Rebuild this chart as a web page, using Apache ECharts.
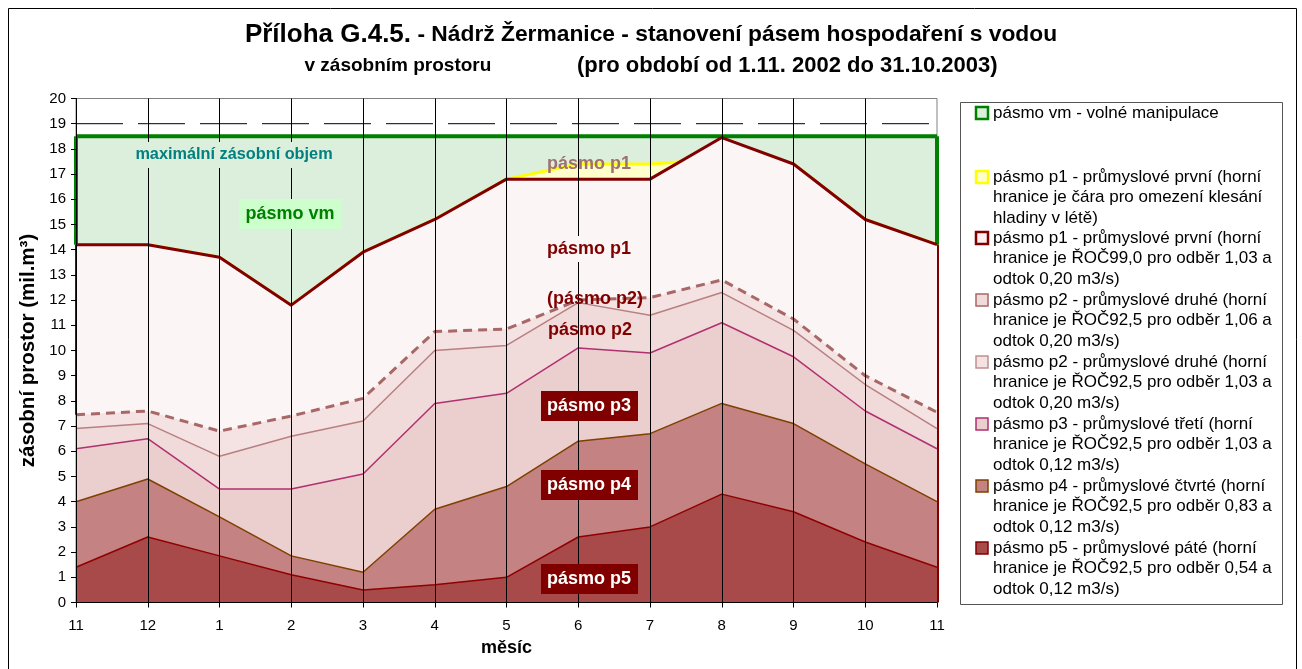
<!DOCTYPE html>
<html><head><meta charset="utf-8">
<script src="https://cdn.jsdelivr.net/npm/echarts@6/dist/echarts.min.js"></script>
<style>html,body{margin:0;padding:0;background:#fff}#c{width:1302px;height:669px}</style>
</head><body><div id="c"></div>
<script>
// ---- data ----
const months = ['11','12','1','2','3','4','5','6','7','8','9','10','11'];
const yTicks = [0,20,1];
const line19 = [19,19,19,19,19,19,19,19,19,19,19,19,19];
const vm     = [18.5,18.5,18.5,18.5,18.5,18.5,18.5,18.5,18.5,18.5,18.5,18.5,18.5];
const p1Leto = [14.2,14.2,13.7,11.8,13.9,15.2,16.8,17.4,17.4,17.6,17.4,15.2,14.2];
const p1     = [14.2,14.2,13.7,11.8,13.9,15.2,16.8,16.8,16.8,18.45,17.4,15.2,14.2];
const p2a    = [7.45,7.6,6.8,7.4,8.1,10.75,10.85,12.0,12.1,12.8,11.25,9.0,7.55];
const p2b    = [6.9,7.1,5.8,6.6,7.2,10.0,10.2,11.9,11.4,12.3,10.8,8.65,6.9];
const p3     = [6.1,6.5,4.5,4.5,5.1,7.9,8.3,10.1,9.9,11.1,9.75,7.6,6.1];
const p4     = [4.0,4.9,3.4,1.85,1.2,3.7,4.6,6.4,6.7,7.9,7.1,5.5,4.0];
const p5     = [1.4,2.6,1.85,1.1,0.5,0.7,1.0,2.6,3.0,4.3,3.6,2.4,1.4];
const legendTexts = [
  'pásmo vm - volné manipulace',
  'pásmo p1 - průmyslové první (horní\nhranice je čára pro omezení klesání\nhladiny v létě)',
  'pásmo p1 - průmyslové první (horní\nhranice je ŘOČ99,0 pro odběr 1,03 a\nodtok 0,20 m3/s)',
  'pásmo p2 - průmyslové druhé (horní\nhranice je ŘOČ92,5 pro odběr 1,06 a\nodtok 0,20 m3/s)',
  'pásmo p2 - průmyslové druhé (horní\nhranice je ŘOČ92,5 pro odběr 1,03 a\nodtok 0,20 m3/s)',
  'pásmo p3 - průmyslové třetí (horní\nhranice je ŘOČ92,5 pro odběr 1,03 a\nodtok 0,12 m3/s)',
  'pásmo p4 - průmyslové čtvrté (horní\nhranice je ŘOČ92,5 pro odběr 0,83 a\nodtok 0,12 m3/s)',
  'pásmo p5 - průmyslové páté (horní\nhranice je ŘOČ92,5 pro odběr 0,54 a\nodtok 0,12 m3/s)'
];

const FONT = "'Liberation Sans', Arial, sans-serif";
const last = months.length - 1;

let zc = 2;
function areaSeries(name, data, lc, lw, fill, dash, extra) {
  zc += 1;
  return Object.assign({
    type: 'line', name: name, data: data, symbol: 'none', showSymbol: false,
    lineStyle: { color: lc, width: lw, type: dash || 'solid' },
    areaStyle: { color: fill, opacity: 1, origin: 'start' },
    emphasis: { disabled: true }, silent: true, z: zc
  }, extra || {});
}
function edge(x, y0, y1, color, width) {
  return [{ coord: [x, y0], lineStyle: { color: color, width: width, type: 'solid' } }, { coord: [x, y1] }];
}

const series = [
  { type: 'line', name: 'line19', data: line19, symbol: 'none', silent: true,
    lineStyle: { color: '#000', width: 1, type: [47, 15] }, z: 2 },
  areaSeries('vm', vm, '#008000', 4, '#dcefdc'),
  areaSeries('p1leto', p1Leto, '#ffff00', 3, '#ffffcc'),
  areaSeries('p1', p1, '#800000', 3, '#fcf5f5'),
  areaSeries('p2a', p2a, '#a86868', 3, '#f5e2e2', [9, 6]),
  areaSeries('p2b', p2b, '#b88080', 1.5, '#f0dada'),
  areaSeries('p3', p3, '#b03070', 1.5, '#ebcfcf'),
  areaSeries('p4', p4, '#804000', 1.5, '#c48282'),
  areaSeries('p5', p5, '#900000', 1.5, '#a84a4a', null, {
    markLine: { symbol: 'none', silent: true, label: { show: false },
      data: [
        edge(0, p1[0], vm[0], '#008000', 4), edge(last, p1[last], vm[last], '#008000', 4),
        edge(0, p2a[0], p1[0], '#800000', 3), edge(last, 0, p1[last], '#800000', 3)
      ] }
  })
];

// ---- graphic annotations ----
const g = [];
g.push({ type: 'rect', z: 0, shape: { x: 8.5, y: 8.5, width: 1288, height: 680 }, style: { fill: 'none', stroke: '#000', lineWidth: 1 } });
function label(text, x, y, color, size, bg) {
  if (bg) g.push({ type: 'rect', z: 100, shape: { x: bg[0], y: bg[1], width: bg[2], height: bg[3] }, style: { fill: bg[4] } });
  g.push({ type: 'text', z: 101, style: { text: text, x: x, y: y, fill: color, font: 'bold ' + size + 'px ' + FONT, textAlign: 'center', textVerticalAlign: 'middle' } });
}
label('maximální zásobní objem', 234, 155, '#008080', 16.3, [128, 142, 212, 26, '#dcefdc']);
label('pásmo vm', 290, 214, '#008000', 18, [239, 199, 102, 30, '#ccffcc']);
label('pásmo p1', 589, 164, '#a07070', 18, null);
label('pásmo p1', 589, 249, '#800000', 18, [543, 236, 92, 26, '#fcf5f5']);
label('(pásmo p2)', 595, 299, '#800000', 18, null);
label('pásmo p2', 590, 330, '#800000', 18, null);
label('pásmo p3', 589, 406, '#ffffff', 18, [541, 391, 97, 30, '#800000']);
label('pásmo p4', 589, 485, '#ffffff', 18, [541, 470, 97, 30, '#800000']);
label('pásmo p5', 589, 579, '#ffffff', 18, [541, 564, 97, 30, '#800000']);

// legend
g.push({ type: 'rect', z: 100, shape: { x: 960.5, y: 102.5, width: 322, height: 502 }, style: { fill: '#fff', stroke: '#555', lineWidth: 1 } });
const legSym = [
  ['#008000', '#dcefdc', 2.5], ['#ffff00', '#ffffcc', 2.5], ['#800000', '#fcf0f0', 2.5], ['#a86868', '#f0dada', 1.5],
  ['#c09090', '#f5e2e2', 1.5], ['#b03070', '#ebcfcf', 1.5], ['#804000', '#c48282', 1.5], ['#800000', '#a84a4a', 1.5]
];
const legY = [113, 177, 238, 300, 362, 424, 486, 548];
legendTexts.forEach(function (t, i) {
  g.push({ type: 'rect', z: 101, shape: { x: 976, y: legY[i] - 6, width: 12, height: 12 },
    style: { fill: legSym[i][1], stroke: legSym[i][0], lineWidth: legSym[i][2] } });
  g.push({ type: 'text', z: 101, style: { text: t, x: 993, y: legY[i] - 10.3, fill: '#000', font: '17px ' + FONT, lineHeight: 20.7, textVerticalAlign: 'top' } });
});

const option = {
  animation: false,
  backgroundColor: '#fff',
  textStyle: { fontFamily: FONT },
  title: {
    left: 'center', top: 14,
    text: '{a|Příloha G.4.5.}{b| - Nádrž Žermanice - stanovení pásem hospodaření s vodou}\n{c|v zásobním prostoru}{d|              (pro období od 1.11. 2002 do 31.10.2003)}',
    textStyle: {
      rich: {
        a: { fontSize: 26, fontWeight: 'bold', color: '#000', fontFamily: FONT, lineHeight: 31 },
        b: { fontSize: 22.8, fontWeight: 'bold', color: '#000', fontFamily: FONT, lineHeight: 31 },
        c: { fontSize: 19, fontWeight: 'bold', color: '#000', fontFamily: FONT, lineHeight: 31 },
        d: { fontSize: 22, fontWeight: 'bold', color: '#000', fontFamily: FONT, lineHeight: 31 }
      }
    }
  },
  grid: { left: 76, right: 365, top: 98.5, bottom: 66.5, show: true, borderColor: '#808080', borderWidth: 1, backgroundColor: 'transparent' },
  xAxis: {
    type: 'category', data: months, boundaryGap: false, z: 30,
    name: 'měsíc', nameLocation: 'middle', nameGap: 37,
    nameTextStyle: { fontSize: 18, fontWeight: 'bold', color: '#000', fontFamily: FONT },
    axisLine: { lineStyle: { color: '#000', width: 1 } },
    axisTick: { show: true, length: 5, lineStyle: { color: '#000' } },
    axisLabel: { color: '#000', fontSize: 15, margin: 16, fontFamily: FONT },
    splitLine: { show: true, interval: function (i) { return i !== 0 && i !== last; }, lineStyle: { color: '#000', width: 1 } }
  },
  yAxis: {
    type: 'value', min: yTicks[0], max: yTicks[1], interval: yTicks[2], z: 30,
    name: 'zásobní prostor (mil.m³)', nameLocation: 'middle', nameGap: 35, nameRotate: 90,
    nameTextStyle: { fontSize: 20.5, fontWeight: 'bold', color: '#000', fontFamily: FONT },
    axisLine: { show: true, lineStyle: { color: '#000', width: 1 } },
    axisTick: { show: true, length: 5, lineStyle: { color: '#000' } },
    axisLabel: { color: '#000', fontSize: 15, margin: 10, fontFamily: FONT },
    splitLine: { show: false }
  },
  series: series,
  graphic: g
};
const chart = echarts.init(document.getElementById('c'));
chart.setOption(option);
</script>
</body></html>
